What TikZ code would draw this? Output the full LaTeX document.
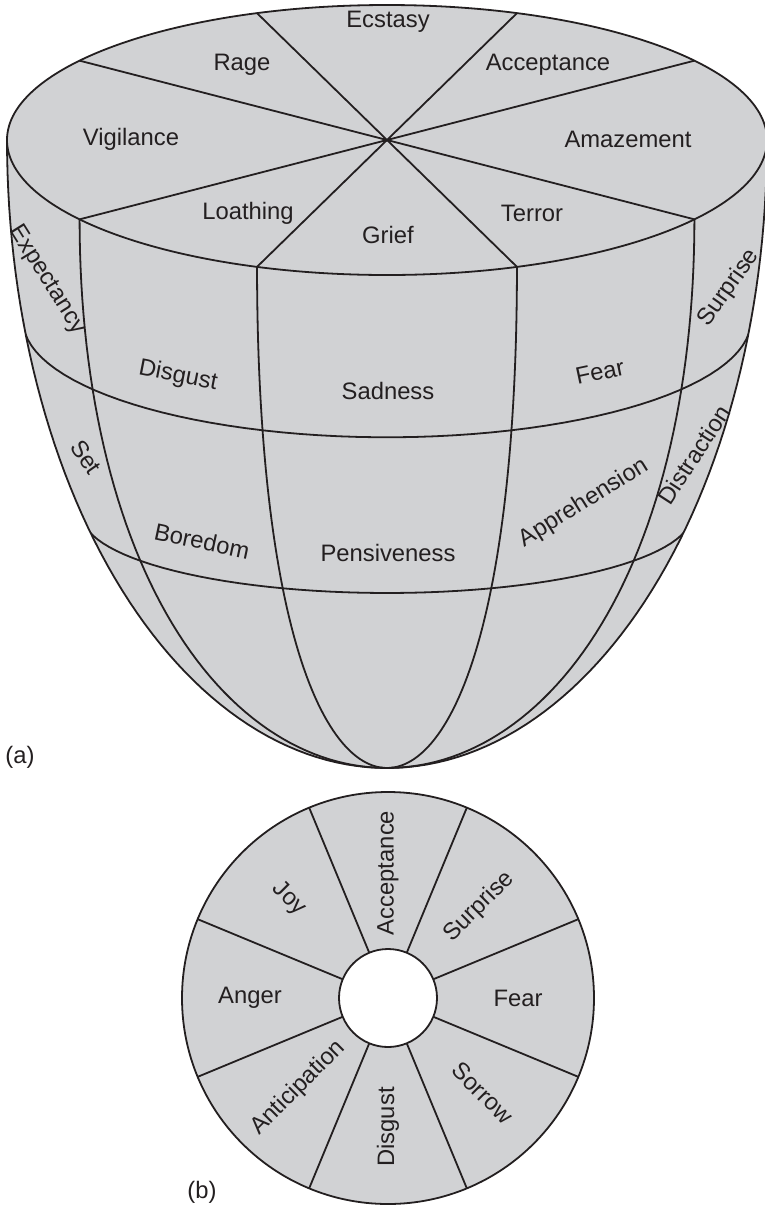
\documentclass[tikz,border=0pt]{standalone}
\usepackage{fontspec}
\setmainfont{Liberation Sans}
\usepackage{tikz}
\usetikzlibrary{positioning}
\definecolor{wheelgray}{RGB}{209,210,212}
\definecolor{inkline}{RGB}{35,31,32}

\begin{document}
\begin{tikzpicture}[x=0.5pt, y=-0.5pt, line join=round,
    declare function={rr(\p)=380*cos(\p); cc(\p)=140+628*sin(\p); bb(\p)=135-36.4*sin(\p)-98.6*sin(\p)*sin(\p);},
    rim/.style={draw=inkline, line width=0.9pt},
    lbl/.style={font=\fontsize{11.9}{14}\selectfont, text=inkline, inner sep=0pt}]
    \useasboundingbox (0,0) rectangle (765,1206);
    % (a) the solid
    \fill[wheelgray] plot[domain=0:90, samples=60, variable=\s] ({387-rr(\s)},{cc(\s)}) -- plot[domain=90:0, samples=60, variable=\s] ({387+rr(\s)},{cc(\s)}) -- cycle;
    \fill[wheelgray] (387,140) ellipse [x radius=380, y radius=135];
    \begin{scope}
      \clip plot[domain=0:90, samples=60, variable=\s] ({387-rr(\s)},{cc(\s)}) -- plot[domain=90:0, samples=60, variable=\s] ({387+rr(\s)},{cc(\s)}) -- cycle;
      \foreach \v in {16.75,36.65} { \draw[rim] plot[domain=180:360, samples=60, variable=\t] ({387+rr(\v)*cos(\t)},{cc(\v)-bb(\v)*sin(\t)}); }
    \end{scope}
    \foreach \t in {180,216,250,290,324,360} { \draw[rim] plot[domain=0:90, samples=60, variable=\s] ({387+rr(\s)*cos(\t)},{cc(\s)-bb(\s)*sin(\t)}); }
    \draw[rim] (387,140) ellipse [x radius=380, y radius=135];
    \foreach \t in {36,70,110,144} { \draw[rim] ({387+380*cos(\t)},{140-135*sin(\t)}) -- ({387-380*cos(\t)},{140+135*sin(\t)}); }
    \foreach \n/\x/\y/\r/\txt in {ecstasy/388/22/0/Ecstasy, rage/242/65/0/Rage, a-acceptance/548/65/0/Acceptance,
        vigilance/131/139/0/Vigilance, amazement/628/139/0/Amazement, loathing/248/213/0/Loathing,
        grief/388/235/0/Grief, terror/532/213/0/Terror, expectancy/47/280/-58/Expectancy,
        a-surprise/729/288/55/Surprise, a-disgust/178/376/-11/Disgust, sadness/388/391/0/Sadness,
        a-fear/600/372/12/Fear, set/86/457/-55/Set, distraction/694/455/57/Distraction,
        boredom/202/541/-12/Boredom, pensiveness/388/553/0/Pensiveness, apprehension/584/503/32/Apprehension}
      { \node[lbl, rotate=\r] (\n) at (\x,\y) {\txt}; }
    \node[lbl] (tag-a) at (20,757) {(a)};
    % (b) the wheel
    \fill[wheelgray] (388,998) circle [radius=206];
    \fill[white] (388,998) circle [radius=49];
    \foreach \a in {22.5,67.5,...,337.5} { \draw[rim] ({388+49*cos(\a)},{998-49*sin(\a)}) -- ({388+206*cos(\a)},{998-206*sin(\a)}); }
    \draw[rim] (388,998) circle [radius=206];
    \draw[rim] (388,998) circle [radius=49];
    \foreach \n/\a/\d/\r/\txt in {b-fear/0/130/0/Fear, b-surprise/45/129/45/Surprise, b-acceptance/90/125/90/Acceptance,
        joy/135/140/-45/Joy, anger/180/138/0/Anger, anticipation/225/127/45/Anticipation,
        b-disgust/270/129/90/Disgust, sorrow/315/134/-45/Sorrow}
      { \node[lbl, rotate=\r] (\n) at ({388+\d*cos(\a)},{998-\d*sin(\a)}) {\txt}; }
    \node[lbl] (tag-b) at (202,1192) {(b)};
\end{tikzpicture}
\end{document}
